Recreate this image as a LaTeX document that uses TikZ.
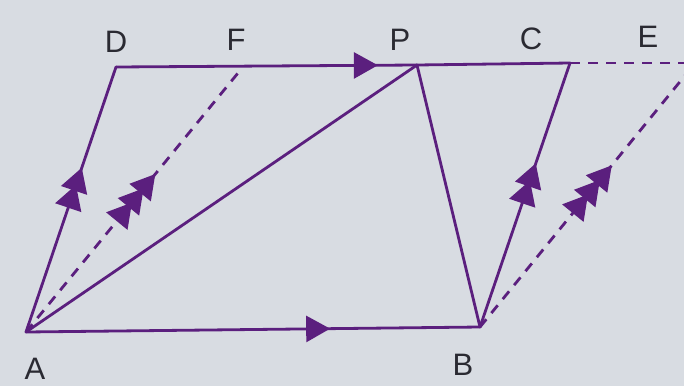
\documentclass[tikz,border=0pt]{standalone}
\usepackage{fontspec}
\setmainfont{Liberation Sans}
\usetikzlibrary{arrows.meta,decorations.markings}
\definecolor{vio}{HTML}{5B1F7E}
\definecolor{bg}{HTML}{D8DCE2}
\definecolor{ink}{HTML}{2A2A32}
\tikzset{
  seg/.style={draw=vio,line width=2.8pt,line cap=round},
  dsh/.style={draw=vio,line width=2.8pt,dash pattern=on 10pt off 8pt},
  lbl/.style={text=ink,font=\fontsize{31}{31}\selectfont,inner sep=0pt},
  bigtip/.tip={Triangle[length=24pt,width=26pt]},
  stktip/.tip={Triangle[length=24pt,width=27pt]},
  one/.style={postaction={decorate},decoration={markings,
     mark=at position #1 with {\arrow{bigtip}}}},
  two/.style={postaction={decorate},decoration={markings,
     mark=at position #1 with {\arrow{stktip}},
     mark=at position #1-0.065 with {\arrow{stktip}}}},
  three/.style={postaction={decorate},decoration={markings,
     mark=at position #1 with {\arrow{stktip}},
     mark=at position #1-0.055 with {\arrow{stktip}},
     mark=at position #1-0.11 with {\arrow{stktip}}}},
}
\begin{document}
\begin{tikzpicture}[x=1pt,y=-1pt,vio]
\fill[bg] (0,0) rectangle (684,386);
\useasboundingbox (0,0) rectangle (684,386);
\clip (0,0) rectangle (684,386);
\coordinate (A) at (26,332);
\coordinate (B) at (480,327);
\coordinate (D) at (116,67);
\coordinate (F) at (238,73);
\coordinate (P) at (417,65);
\coordinate (C) at (570,63);
\coordinate (E) at (696,62);
\coordinate (Er) at (690,63);
% solid lines
\draw[seg,one=0.67] (A) -- (B);
\draw[seg,one=0.87] (D) -- (P);
\draw[seg] (P) -- (C);
\draw[seg,two=0.62] (A) -- (D);
\draw[seg,two=0.62] (B) -- (C);
\draw[seg] (A) -- (P);
\draw[seg] (P) -- (B);
% dashed lines
\draw[dsh,three=0.61] (A) -- (F);
\draw[dsh,three=0.61] (B) -- (E);
\draw[dsh] (C) -- (Er);
% labels
\node[lbl] (lD) at (116,42) {D};
\node[lbl] (lF) at (236,40) {F};
\node[lbl] (lP) at (400,40) {P};
\node[lbl] (lC) at (531,39) {C};
\node[lbl] (lE) at (648,37) {E};
\node[lbl] (lA) at (35,369) {A};
\node[lbl] (lB) at (463,365) {B};
\end{tikzpicture}
\end{document}
